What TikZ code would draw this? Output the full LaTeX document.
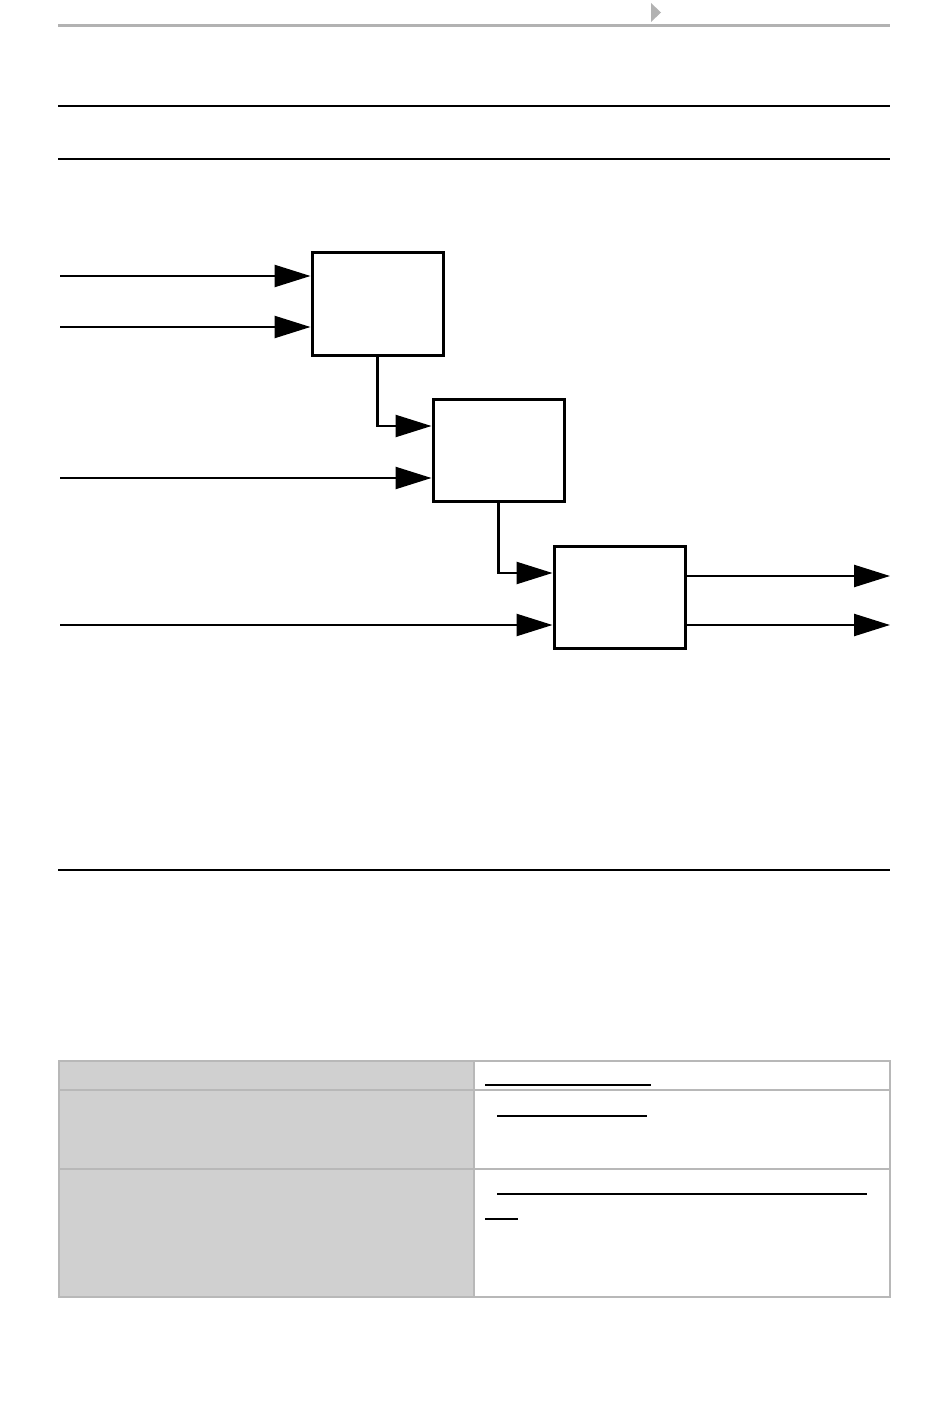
\documentclass[tikz,border=0pt]{standalone}
\usepackage{tikz}
\usetikzlibrary{calc, positioning, arrows.meta}
\definecolor{rulegray}{gray}{0.70}
\definecolor{cellgray}{gray}{0.816}
\definecolor{gridgray}{gray}{0.72}
\tikzset{
    blockbox/.style={rectangle, draw=black, line width=1.5pt, fill=white, minimum width=65.5pt, minimum height=51pt, inner sep=0pt},
    signalarrow/.style={-{Triangle[length=18pt, width=11pt]}, line width=1.2pt},
    linkline/.style={line width=0.8pt, black},
    cellborder/.style={draw=gridgray, line width=1pt}
}
\begin{document}
\begin{tikzpicture}[x=0.5pt, y=-0.5pt]
            \useasboundingbox (0,0) rectangle (950,1401);

            % Page header
            \draw[rulegray, line width=1.5pt] (58,26) -- (890,26);
            \fill[rulegray] (651,3) -- (661,12.5) -- (651,22) -- cycle;
            \draw[line width=0.6pt] (58,106) -- (890,106);
            \draw[line width=1pt] (58,159) -- (890,159);

            % Blocks
            \node[blockbox] (blockA) at (377.5,304) {};
            \node[blockbox] (blockB) at (498.5,450) {};
            \node[blockbox] (blockC) at (619.5,597) {};

            % Inputs
            \coordinate (inA1) at (60,276);
            \coordinate (inA2) at (60,327);
            \coordinate (inB) at (60,478);
            \coordinate (inC) at (60,625);
            \draw[signalarrow] (inA1) -- (inA1 -| blockA.west);
            \draw[signalarrow] (inA2) -- (inA2 -| blockA.west);
            \draw[signalarrow] (inB) -- (inB -| blockB.west);
            \draw[signalarrow] (inC) -- (inC -| blockC.west);

            % Chain between blocks
            \coordinate (jointB) at (433,426);
            \coordinate (jointC) at (554,573);
            \draw[signalarrow] (blockA.south) |- (blockB.west |- jointB);
            \draw[signalarrow] (blockB.south) |- (blockC.west |- jointC);

            % Outputs
            \coordinate (out1) at (890,576);
            \coordinate (out2) at (890,625);
            \draw[signalarrow] (blockC.east |- out1) -- (out1);
            \draw[signalarrow] (blockC.east |- out2) -- (out2);

            \draw[line width=0.6pt] (58,870) -- (890,870);

            % Table
            \fill[cellgray] (59,1061) rectangle (474,1297);
            \draw[cellborder] (59,1061) rectangle (890,1297);
            \draw[cellborder] (474,1061) -- (474,1297);
            \draw[cellborder] (59,1090) -- (890,1090);
            \draw[cellborder] (59,1169) -- (890,1169);

            % Link underlines
            \draw[linkline] (485,1085) -- (651,1085);
            \draw[linkline] (497,1116) -- (647,1116);
            \draw[linkline] (497,1194) -- (867,1194);
            \draw[linkline] (485,1219) -- (518,1219);
        \end{tikzpicture}
\end{document}
